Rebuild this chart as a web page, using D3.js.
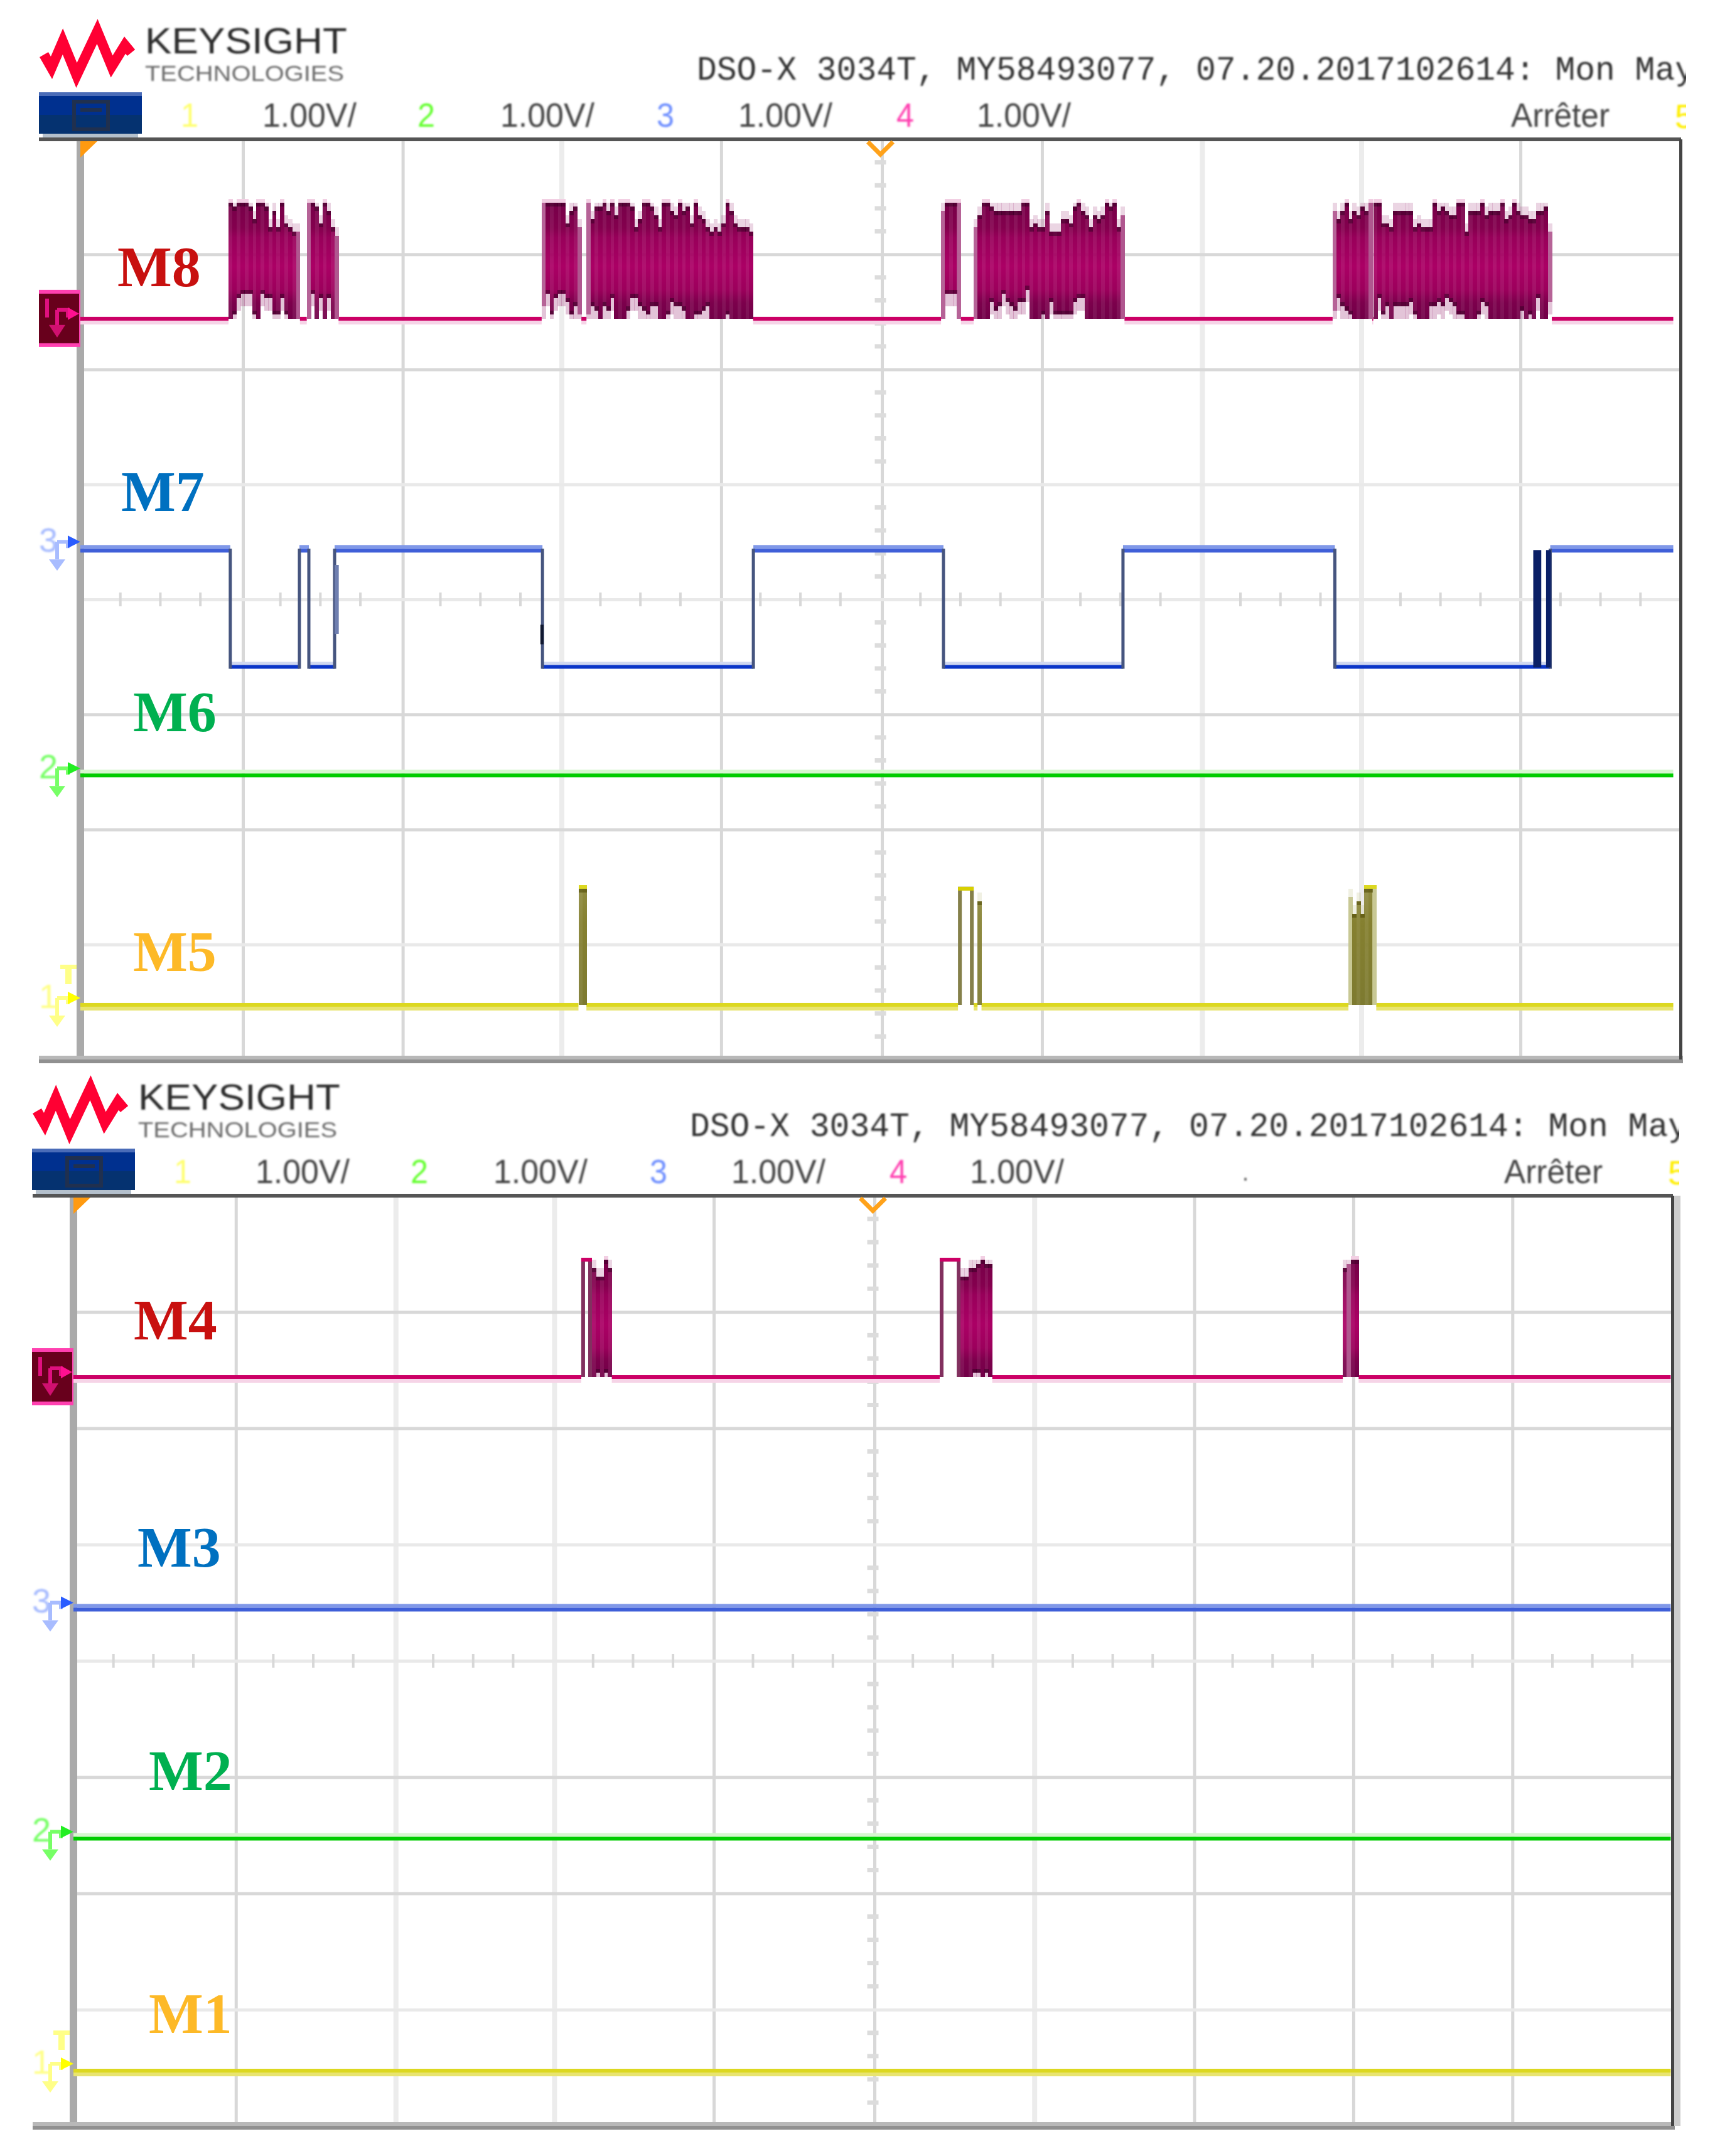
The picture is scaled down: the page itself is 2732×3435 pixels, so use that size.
<!DOCTYPE html>
<html>
<head>
<meta charset="utf-8">
<script src="https://cdn.jsdelivr.net/npm/d3@7"></script>
<style>
	body {margin: 0; background: #fff;}
	svg {display: block;}
</style>
</head>
<body>
<div id="vis"></div>
<script>
// declare constants
const FRAME_WIDTH = 2732;
const FRAME_HEIGHT = 3435;
const STEPS = 28;             // envelope levels are read in steps of the 1 div swing
const COL_WIDTH = 0.0248;     // one column of a burst, in divisions

// scope text
const STATUS_TEXT = "DSO-X 3034T, MY58493077, 07.20.2017102614: Mon May";
const CHANNEL_NAMES = ["1", "2", "3", "4"];
const CHANNEL_SCALE = "1.00V/";
const RUN_STATE = "Arrêter";

// grid, in divisions and volts
const GRID_X = [1.016, 2.015, 3.007, 4.005, 5.01, 6.01, 7.01, 8.005, 9.0];
const GRID_Y = [3, 2, 1, 0, -1, -2, -3];
const PALE_X_TOP = [3.007, 7.01, 8.005];
const PALE_X_BOTTOM = [2.015, 3.007, 6.01];
const PALE_Y = [1, 0, -3];

// trace levels in volts
const LEVEL_M8 = 2.44, LEVEL_M7_HIGH = 0.44, LEVEL_M7_LOW = -0.57, LEVEL_M6 = -1.53, LEVEL_M5 = -3.525;
const LEVEL_M4 = 2.44, LEVEL_M3 = 0.44, LEVEL_M2 = -1.53, LEVEL_M1 = -3.525;
const SWING = 1.01;

// M7 switches level at these times (divisions), starts high
const M7_EDGES = [0.937, 1.369, 1.428, 1.589, 2.888, 4.206, 5.394, 6.516, 7.84, 9.186];
const M7_DARK_PULSES = [[9.08, 9.13], [9.16, 9.19]];
// short thicker bits on some edges: from, to, upper volts, lower volts, colour
const M7_GHOSTS = [[1.589, 1.615, 0.3, -0.3, "#6f7fb0"], [2.875, 2.895, -0.22, -0.39, "#101830"]];

// M8 bursts: start time, then top and bottom level of each column
const M8_STARTS = [0.926, 1.415, 2.883, 3.163, 5.379, 5.583, 7.826, 8.08];
const M8_TOPS = [
	[28,27,28,28,28,27,24,28,28,27,22,26,22,28,23,22,21,21],
	[28,28,27,23,28,26,22,20],
	[28,28,28,28,28,28,23,26,27,22],
	[28,24,27,27,28,26,28,25,28,28,28,27,22,24,28,28,27,25,22,28,28,26,25,28,26,27,23,28,25,24,22,21,22,21,23,28,26,23,22,22,22,21],
	[26,28,28,28,28],
	[22,25,28,28,27,26,26,26,26,26,26,26,28,28,22,23,22,22,26,21,21,21,24,24,23,27,28,26,25,22,25,24,25,28,27,28,22,25],
	[26,24,26,28,24,26,25,27,26,28],
	[28,28,23,23,22,26,26,26,26,26,22,23,22,22,22,28,26,27,26,25,25,28,28,21,26,26,26,28,25,26,26,26,28,24,25,28,26,25,25,24,24,26,26,27,21]
];
const M8_BOTTOMS = [
	[0,1,5,6,6,6,1,0,6,5,5,1,1,5,1,0,0,0],
	[0,6,0,5,0,5,0,0],
	[3,6,1,5,6,6,4,1,3,1],
	[1,3,2,0,3,2,5,0,0,0,2,5,5,3,2,1,3,3,0,0,1,4,3,3,2,0,0,1,1,2,3,0,0,0,0,1,0,0,0,0,0,0],
	[0,6,6,6,0],
	[0,0,0,0,4,2,3,6,4,3,2,4,4,7,0,0,0,1,0,4,1,1,1,1,1,4,5,5,0,0,0,0,0,0,0,0,0,0],
	[2,5,3,2,1,0,0,0,0,0],
	[0,5,1,3,0,3,3,3,3,4,1,0,0,0,3,3,4,3,5,4,3,1,1,0,0,0,1,4,3,0,0,0,0,0,0,0,0,2,0,1,0,5,0,0,4]
];
const M8_PALE = [[17], [0,7], [0,9], [0], [0,4], [0,37], [0,9], [44]];

// M5 pulses and bursts
const M5_PULSES = [[5.485, 5.583]];
const M5_STARTS = [3.113, 5.607, 7.925];
const M5_TOPS = [[28,28], [25], [26,22,25,22,28,28,28]];
const M5_BOTTOMS = [[0,0], [0], [0,0,0,0,0,0,0]];
const M5_PALE = [[], [], [0,6]];

// M4 pulses and bursts
const M4_PULSES = [[3.176, 3.243], [5.418, 5.548]];
const M4_STARTS = [3.243, 5.548, 7.939];
const M4_TOPS = [[26,24,24,28,26], [24,24,26,26,27,28,27,27], [26,27,28,28]];
const M4_BOTTOMS = [[0,1,0,1,0], [0,0,0,1,1,0,1,0], [0,0,0,0]];
const M4_PALE = [[], [], [1]];

// name tags
const TAGS_TOP = [["M8", 187, 456, "#c8100f"], ["M7", 193, 814, "#0070c0"], ["M6", 212, 1165, "#00b050"], ["M5", 212, 1547, "#fdb927"]];
const TAGS_BOTTOM = [["M4", 213, 2134, "#c8100f"], ["M3", 219, 2496, "#0070c0"], ["M2", 237, 2852, "#00b050"], ["M1", 237, 3239, "#fdb927"]];

// logo zigzag
const LOGO_WAVE = [[70,87],[82,108],[100,66],[122,120],[155,50],[178,106],[199,72],[209,84]];

const SVG = d3.select("#vis")
	.append("svg")
		.attr("width", FRAME_WIDTH)
		.attr("height", FRAME_HEIGHT);

const DEFS = SVG.append("defs");

// the source picture is a soft screenshot
DEFS.append("filter").attr("id", "soft")
	.append("feGaussianBlur").attr("stdDeviation", 1.4);

function makeGradient(id, y0, y1, stops) {
	const grad = DEFS.append("linearGradient")
		.attr("id", id)
		.attr("gradientUnits", "userSpaceOnUse")
		.attr("x1", 0).attr("x2", 0)
		.attr("y1", y0).attr("y2", y1);
	stops.forEach((s) => {
		grad.append("stop").attr("offset", s[0]).attr("stop-color", s[1]);
	});
	return "url(#" + id + ")";
}

const BURST_STOPS = [[0, "#760048"], [0.22, "#84004e"], [0.3, "#98005a"], [0.55, "#ab0065"], [0.75, "#9c005c"], [0.86, "#7c004c"], [1, "#720048"]];
const OLIVE_STOPS = [[0, "#8f8b40"], [0.3, "#858030"], [1, "#7d7a30"]];

// header row, same for both shots
function drawHeader(dx, dy, clipId, showDot) {
	const HEAD = SVG.append("g").attr("transform", "translate(" + dx + "," + dy + ")");

	DEFS.append("clipPath").attr("id", clipId)
		.append("rect").attr("x", 0).attr("y", 0).attr("width", 2686).attr("height", 220);

	// logo
	HEAD.append("path")
		.attr("d", d3.line()(LOGO_WAVE))
		.attr("fill", "none")
		.attr("stroke", "#ff0033")
		.attr("stroke-width", 16)
		.attr("stroke-linejoin", "miter")
		.attr("stroke-miterlimit", 8);

	const SOFT = HEAD.append("g").attr("filter", "url(#soft)").attr("clip-path", "url(#" + clipId + ")");

	function label(txt, x, y, size, len, color, font) {
		SOFT.append("text")
			.attr("x", x).attr("y", y)
			.attr("font-family", font)
			.attr("font-size", size)
			.attr("fill", color)
			.attr("textLength", len)
			.attr("lengthAdjust", "spacingAndGlyphs")
			.text(txt);
	}

	label("KEYSIGHT", 231, 84.5, 58, 322, "#2a2a2a", "Liberation Sans");
	label("TECHNOLOGIES", 231, 129, 35, 317, "#6a6a6a", "Liberation Sans");
	label(STATUS_TEXT, 1110, 127, 54, 1590, "#333", "Liberation Mono");

	const SCALE_X = [418, 797, 1176, 1556];
	const NAME_X = [288, 665, 1046, 1428];
	const NAME_COLOR = ["#ffff70", "#66ff33", "#7090ff", "#ff40b0"];
	CHANNEL_NAMES.forEach((n, i) => {
		label(n, NAME_X[i], 202, 54, 28, NAME_COLOR[i], "Liberation Sans");
		label(CHANNEL_SCALE, SCALE_X[i], 202, 54, 150, "#444", "Liberation Sans");
	});
	label(RUN_STATE, 2407, 202, 54, 157, "#444", "Liberation Sans");
	label("5", 2668, 204, 54, 30, "#ffee00", "Liberation Sans");
	if (showDot) {
		label(".", 1990, 198, 40, 10, "#555", "Liberation Sans");
	}

	// blue button
	HEAD.append("rect").attr("x", 62).attr("y", 147).attr("width", 164).attr("height", 66).attr("fill", "#00308f");
	HEAD.append("rect").attr("x", 62).attr("y", 147).attr("width", 164).attr("height", 6).attr("fill", "#4a6cb8");
	HEAD.append("rect").attr("x", 62).attr("y", 183).attr("width", 164).attr("height", 30).attr("fill", "#053270");
	HEAD.append("rect").attr("x", 68).attr("y", 213).attr("width", 152).attr("height", 7).attr("fill", "#b4c0cc");
	HEAD.append("rect").attr("x", 118).attr("y", 162).attr("width", 54).attr("height", 44)
		.attr("fill", "none").attr("stroke", "#20304f").attr("stroke-width", 6);
	HEAD.append("rect").attr("x", 128).attr("y", 172).attr("width", 34).attr("height", 6).attr("fill", "#20304f");
}

// channel marker on the left of the axis
function drawMarker(axisX, y, name, pale, strong) {
	const G = SVG.append("g").attr("transform", "translate(" + axisX + "," + y + ")");
	G.append("text").attr("x", -66).attr("y", 5)
		.attr("font-family", "Liberation Sans").attr("font-size", 54)
		.attr("fill", pale).attr("filter", "url(#soft)")
		.text(name);
	G.append("path")
		.attr("d", "M-37,-11H-20V-1M-37,-11V17")
		.attr("fill", "none").attr("stroke", pale).attr("stroke-width", 6);
	G.append("path").attr("d", "M-50,17H-24L-37,35Z").attr("fill", pale);
	G.append("path").attr("d", "M-20,-21V-1L0,-11Z").attr("fill", strong);
}

// box marker used by channel 4
function drawBoxMarker(axisX, y) {
	const G = SVG.append("g").attr("transform", "translate(" + axisX + "," + y + ")");
	G.append("rect").attr("x", -66).attr("y", -46).attr("width", 66).attr("height", 91).attr("fill", "#ff40b0");
	G.append("rect").attr("x", -66).attr("y", -40).attr("width", 64).attr("height", 79).attr("fill", "#68001c");
	G.append("path")
		.attr("d", "M-53,-32V-2M-37,-14V14M-37,-14H-20V-2")
		.attr("fill", "none").attr("stroke", "#e0107f").attr("stroke-width", 6);
	G.append("path").attr("d", "M-50,10H-24L-37,30Z").attr("fill", "#d0106f");
	G.append("path").attr("d", "M-20,-18V2L-2,-8Z").attr("fill", "#ff1090");
}

// one oscilloscope shot: grid, frame, returns its scales
function drawPanel(box, paleX) {
	const X = d3.scaleLinear().domain([0, 10]).range([box.left, box.right]);
	const Y = d3.scaleLinear().domain([4, -4]).range([box.top, box.bottom]);
	const GRID = SVG.append("g");

	// vertical grid
	const gx = GRID.append("g")
		.attr("transform", "translate(0," + box.bottom + ")")
		.call(d3.axisBottom(X).tickValues(GRID_X).tickSize(-(box.bottom - box.top)).tickFormat(""));
	gx.select(".domain").remove();
	gx.selectAll("line")
		.attr("stroke", (d) => paleX.includes(d) ? "#ececec" : "#d8d8d8")
		.attr("stroke-width", (d) => paleX.includes(d) ? 8 : 5);

	// horizontal grid
	const gy = GRID.append("g")
		.attr("transform", "translate(" + box.left + ",0)")
		.call(d3.axisLeft(Y).tickValues(GRID_Y).tickSize(-(box.right - box.left)).tickFormat(""));
	gy.select(".domain").remove();
	gy.selectAll("line")
		.attr("stroke", (d) => PALE_Y.includes(d) ? "#e9e9e9" : "#d8d8d8")
		.attr("stroke-width", 5);

	// small ticks on the centre lines
	const minorX = d3.range(0, 10.01, 0.25).filter((d) => d % 1 !== 0);
	GRID.selectAll(".minorx")
		.data(minorX)
		.enter()
		.append("line")
			.attr("x1", (d) => X(d)).attr("x2", (d) => X(d))
			.attr("y1", Y(0) - 11).attr("y2", Y(0) + 11)
			.attr("stroke", "#d8d8d8").attr("stroke-width", 4);
	const minorY = d3.range(-4, 4.01, 0.2).filter((d) => Math.abs(d - Math.round(d)) > 0.01);
	GRID.selectAll(".minory")
		.data(minorY)
		.enter()
		.append("line")
			.attr("x1", X(5) - 9).attr("x2", X(5) + 9)
			.attr("y1", (d) => Y(d)).attr("y2", (d) => Y(d))
			.attr("stroke", "#dcdcdc").attr("stroke-width", 7);

	return {X: X, Y: Y, box: box};
}

function drawFrame(box, extraRight) {
	// left axis
	SVG.append("rect").attr("x", box.left - 6).attr("y", box.top).attr("width", 12).attr("height", box.bottom - box.top + 6).attr("fill", "#aaa");
	// bottom
	SVG.append("rect").attr("x", box.hx).attr("y", box.bottom - 6).attr("width", box.right + 4 - box.hx).attr("height", 6).attr("fill", "#b8b8b8");
	SVG.append("rect").attr("x", box.hx).attr("y", box.bottom).attr("width", box.right + 4 - box.hx).attr("height", 6).attr("fill", "#909090");
	// top
	SVG.append("rect").attr("x", box.hx).attr("y", box.top - 3).attr("width", box.right + 1 - box.hx).attr("height", 6).attr("fill", "#555");
	// right
	SVG.append("rect").attr("x", box.right - 2).attr("y", box.top).attr("width", 5).attr("height", box.bottom - box.top).attr("fill", "#444");
	if (extraRight) {
		SVG.append("rect").attr("x", box.right + 3).attr("y", box.top).attr("width", 10).attr("height", box.bottom - box.top).attr("fill", "#ccc");
	}
	// orange time markers
	SVG.append("path")
		.attr("d", "M" + box.left + "," + (box.top + 3) + "h27l-27,26Z")
		.attr("fill", "#ff9a10");
	const cx = (box.left + box.right) / 2;
	SVG.append("path")
		.attr("d", "M" + (cx - 20) + "," + (box.top + 4) + "L" + cx + "," + (box.top + 24) + "L" + (cx + 20) + "," + (box.top + 4))
		.attr("fill", "none").attr("stroke", "#ffa21a").attr("stroke-width", 7);
}

// flat line with a lighter band next to it
function drawLevel(p, level, from, to, color, halo, haloSide) {
	const y = p.Y(level);
	p.layer.append("rect")
		.attr("x", p.X(from)).attr("width", p.X(to) - p.X(from))
		.attr("y", haloSide > 0 ? y + 3 : y - 9).attr("height", 6)
		.attr("fill", halo);
	p.layer.append("rect")
		.attr("x", p.X(from)).attr("width", p.X(to) - p.X(from))
		.attr("y", y - 3).attr("height", 6)
		.attr("fill", color);
}

// baseline with gaps where bursts and pulses sit
function baseSegments(starts, tops, pulses, end) {
	const busy = starts.map((s, i) => [s, s + tops[i].length * COL_WIDTH]).concat(pulses)
		.sort((a, b) => a[0] - b[0]);
	const segs = [];
	let t = 0;
	busy.forEach((b) => {
		if (b[0] > t) segs.push([t, b[0]]);
		t = Math.max(t, b[1]);
	});
	segs.push([t, end]);
	return segs;
}

// columns of a burst, one rect per column
function drawBurst(p, base, starts, tops, bottoms, pale, fill, style) {
	const Y_LEVEL = (l) => p.Y(base + SWING * l / STEPS);
	const stepPx = Y_LEVEL(0) - Y_LEVEL(1);
	const cols = [];
	starts.forEach((s, b) => {
		tops[b].forEach((t, i) => {
			cols.push({x: s + i * COL_WIDTH, top: t, bottom: bottoms[b][i], pale: pale[b].includes(i), i: i});
		});
	});
	const W = p.X(COL_WIDTH) - p.X(0) + 0.6;
	const G = p.layer.append("g").attr("shape-rendering", "crispEdges");

	// faded fringe past the ends of a column
	G.selectAll(".fringe")
		.data(cols.filter((d) => d.bottom > 0))
		.enter()
		.append("rect")
			.attr("x", (d) => p.X(d.x)).attr("width", W)
			.attr("y", (d) => Y_LEVEL(d.bottom))
			.attr("height", (d) => Math.min(d.bottom, 3) * stepPx)
			.attr("fill", style.pale).attr("opacity", 0.35);
	G.selectAll(".fringetop")
		.data(cols.filter((d) => d.top < STEPS))
		.enter()
		.append("rect")
			.attr("x", (d) => p.X(d.x)).attr("width", W)
			.attr("y", (d) => Y_LEVEL(Math.min(d.top + 2, STEPS)))
			.attr("height", (d) => Math.min(2, STEPS - d.top) * stepPx)
			.attr("fill", style.pale).attr("opacity", 0.25);

	// column body
	G.selectAll(".col")
		.data(cols)
		.enter()
		.append("rect")
			.attr("x", (d) => p.X(d.x)).attr("width", W)
			.attr("y", (d) => Y_LEVEL(d.top))
			.attr("height", (d) => (d.top - d.bottom) * stepPx)
			.attr("fill", (d) => d.pale ? style.pale : fill)
			.attr("fill-opacity", (d) => d.i % 2 ? 1 : 0.93);

	// dark cap on the ends
	G.selectAll(".cap")
		.data(cols.filter((d) => !d.pale))
		.enter()
		.append("rect")
			.attr("x", (d) => p.X(d.x)).attr("width", W)
			.attr("y", (d) => Y_LEVEL(d.top))
			.attr("height", stepPx)
			.attr("fill", style.cap).attr("opacity", 0.55);
	G.selectAll(".capb")
		.data(cols.filter((d) => !d.pale && d.bottom > 0))
		.enter()
		.append("rect")
			.attr("x", (d) => p.X(d.x)).attr("width", W)
			.attr("y", (d) => Y_LEVEL(d.bottom + 1))
			.attr("height", stepPx)
			.attr("fill", style.cap).attr("opacity", 0.55);

	// bright halo above the full height columns
	G.selectAll(".halo")
		.data(cols.filter((d) => d.top === STEPS))
		.enter()
		.append("rect")
			.attr("x", (d) => p.X(d.x)).attr("width", W)
			.attr("y", Y_LEVEL(STEPS) - 6).attr("height", 6)
			.attr("fill", style.halo);
}

// open topped pulses
function drawPulses(p, base, pulses, side, top) {
	const hi = p.Y(base + SWING);
	const lo = p.Y(base);
	pulses.forEach((d) => {
		p.layer.append("path")
			.attr("d", "M" + (p.X(d[0]) + 3) + "," + lo + "V" + hi + "H" + (p.X(d[1]) - 3) + "V" + lo)
			.attr("fill", "none")
			.attr("stroke", side)
			.attr("stroke-width", 6);
		p.layer.append("rect")
			.attr("x", p.X(d[0])).attr("width", p.X(d[1]) - p.X(d[0]))
			.attr("y", hi - 3).attr("height", 6)
			.attr("fill", top);
	});
}

// square wave of M7
function drawM7(p) {
	const hi = p.Y(LEVEL_M7_HIGH);
	const lo = p.Y(LEVEL_M7_LOW);
	const times = [0].concat(M7_EDGES, [9.955]);
	d3.pairs(times).forEach((seg, i) => {
		const w = p.X(seg[1]) - p.X(seg[0]);
		if (i % 2 === 0) {
			p.layer.append("rect").attr("x", p.X(seg[0])).attr("width", w).attr("y", hi - 6).attr("height", 6).attr("fill", "#8098e8");
			p.layer.append("rect").attr("x", p.X(seg[0])).attr("width", w).attr("y", hi).attr("height", 6).attr("fill", "#3f5fd8");
		} else {
			p.layer.append("rect").attr("x", p.X(seg[0])).attr("width", w).attr("y", lo - 5).attr("height", 5).attr("fill", "#d0d8f0");
			p.layer.append("rect").attr("x", p.X(seg[0])).attr("width", w).attr("y", lo).attr("height", 6).attr("fill", "#0a35c8");
		}
	});
	p.layer.selectAll(".edge")
		.data(M7_EDGES)
		.enter()
		.append("line")
			.attr("x1", (d) => p.X(d)).attr("x2", (d) => p.X(d))
			.attr("y1", hi).attr("y2", lo + 6)
			.attr("stroke", "#46557f").attr("stroke-width", 5);
	p.layer.selectAll(".dark")
		.data(M7_DARK_PULSES)
		.enter()
		.append("rect")
			.attr("x", (d) => p.X(d[0])).attr("width", (d) => p.X(d[1]) - p.X(d[0]))
			.attr("y", hi + 2).attr("height", lo - hi + 2)
			.attr("fill", "#0a1f66");
	p.layer.selectAll(".ghost")
		.data(M7_GHOSTS)
		.enter()
		.append("rect")
			.attr("x", (d) => p.X(d[0])).attr("width", (d) => p.X(d[1]) - p.X(d[0]))
			.attr("y", (d) => p.Y(d[2])).attr("height", (d) => p.Y(d[3]) - p.Y(d[2]))
			.attr("fill", (d) => d[4]);
}

const BOX_TOP = {left: 128, right: 2677, top: 222, bottom: 1688, hx: 62};
const BOX_BOTTOM = {left: 117, right: 2664, top: 1905, bottom: 3387, hx: 52};

const M8_STYLE = {pale: "#b0578f", cap: "#3a0026", halo: "#f2cfe3"};
const OLIVE_STYLE = {pale: "#c4c48c", cap: "#4a4600", halo: "#dcd820"};

// top shot
drawHeader(0, 0, "clipa", false);
const P1 = drawPanel(BOX_TOP, PALE_X_TOP);
drawFrame(BOX_TOP, false);
P1.layer = SVG.append("g");

baseSegments(M8_STARTS, M8_TOPS, [], 9.955).forEach((s) => {
	drawLevel(P1, LEVEL_M8, s[0], s[1], "#cc0066", "#f6d4e7", 1);
});
drawBurst(P1, LEVEL_M8, M8_STARTS, M8_TOPS, M8_BOTTOMS, M8_PALE,
	makeGradient("m8fill", P1.Y(LEVEL_M8 + SWING), P1.Y(LEVEL_M8), BURST_STOPS), M8_STYLE);

drawM7(P1);
drawLevel(P1, LEVEL_M6, 0, 9.955, "#00cc00", "#d6f6d0", -1);

baseSegments(M5_STARTS, M5_TOPS, M5_PULSES, 9.955).forEach((s) => {
	drawLevel(P1, LEVEL_M5, s[0], s[1], "#dcd820", "#e8e470", 1);
});
drawPulses(P1, LEVEL_M5, M5_PULSES, "#85804a", "#d8d000");
drawBurst(P1, LEVEL_M5, M5_STARTS, M5_TOPS, M5_BOTTOMS, M5_PALE,
	makeGradient("m5fill", P1.Y(LEVEL_M5 + SWING), P1.Y(LEVEL_M5), OLIVE_STOPS), OLIVE_STYLE);

drawBoxMarker(BOX_TOP.left, P1.Y(LEVEL_M8));
drawMarker(BOX_TOP.left, P1.Y(LEVEL_M7_HIGH), "3", "#a8bcff", "#2a5cff");
drawMarker(BOX_TOP.left, P1.Y(LEVEL_M6), "2", "#77ff66", "#22ee22");
drawMarker(BOX_TOP.left, P1.Y(LEVEL_M5), "1", "#ffff88", "#ffff00");

// bottom shot
drawHeader(-11, 1683, "clipb", true);
const P2 = drawPanel(BOX_BOTTOM, PALE_X_BOTTOM);
drawFrame(BOX_BOTTOM, true);
P2.layer = SVG.append("g");

baseSegments(M4_STARTS, M4_TOPS, M4_PULSES, 9.99).forEach((s) => {
	drawLevel(P2, LEVEL_M4, s[0], s[1], "#cc0066", "#f6d4e7", 1);
});
drawPulses(P2, LEVEL_M4, M4_PULSES, "#82305f", "#cc0066");
drawBurst(P2, LEVEL_M4, M4_STARTS, M4_TOPS, M4_BOTTOMS, M4_PALE,
	makeGradient("m4fill", P2.Y(LEVEL_M4 + SWING), P2.Y(LEVEL_M4), BURST_STOPS), M8_STYLE);

drawLevel(P2, LEVEL_M3, 0, 9.99, "#3f5fd8", "#8098e8", -1);
drawLevel(P2, LEVEL_M2, 0, 9.99, "#00cc00", "#d6f6d0", -1);
drawLevel(P2, LEVEL_M1, 0, 9.99, "#dcd820", "#e8e470", 1);

drawBoxMarker(BOX_BOTTOM.left, P2.Y(LEVEL_M4));
drawMarker(BOX_BOTTOM.left, P2.Y(LEVEL_M3), "3", "#a8bcff", "#2a5cff");
drawMarker(BOX_BOTTOM.left, P2.Y(LEVEL_M2), "2", "#77ff66", "#22ee22");
drawMarker(BOX_BOTTOM.left, P2.Y(LEVEL_M1), "1", "#ffff88", "#ffff00");

// small T above the channel 1 markers
[[BOX_TOP.left, P1.Y(LEVEL_M5)], [BOX_BOTTOM.left, P2.Y(LEVEL_M1)]].forEach((m) => {
	SVG.append("path")
		.attr("d", "M" + (m[0] - 32) + "," + (m[1] - 64) + "h26v7h-8v24h-10v-24h-8Z")
		.attr("fill", "#ffff88");
});

// M labels
SVG.selectAll(".tag")
	.data(TAGS_TOP.concat(TAGS_BOTTOM))
	.enter()
	.append("text")
		.attr("x", (d) => d[1])
		.attr("y", (d) => d[2])
		.attr("font-family", "Liberation Serif")
		.attr("font-weight", "bold")
		.attr("font-size", 92)
		.attr("fill", (d) => d[3])
		.text((d) => d[0]);
</script>
</body>
</html>
